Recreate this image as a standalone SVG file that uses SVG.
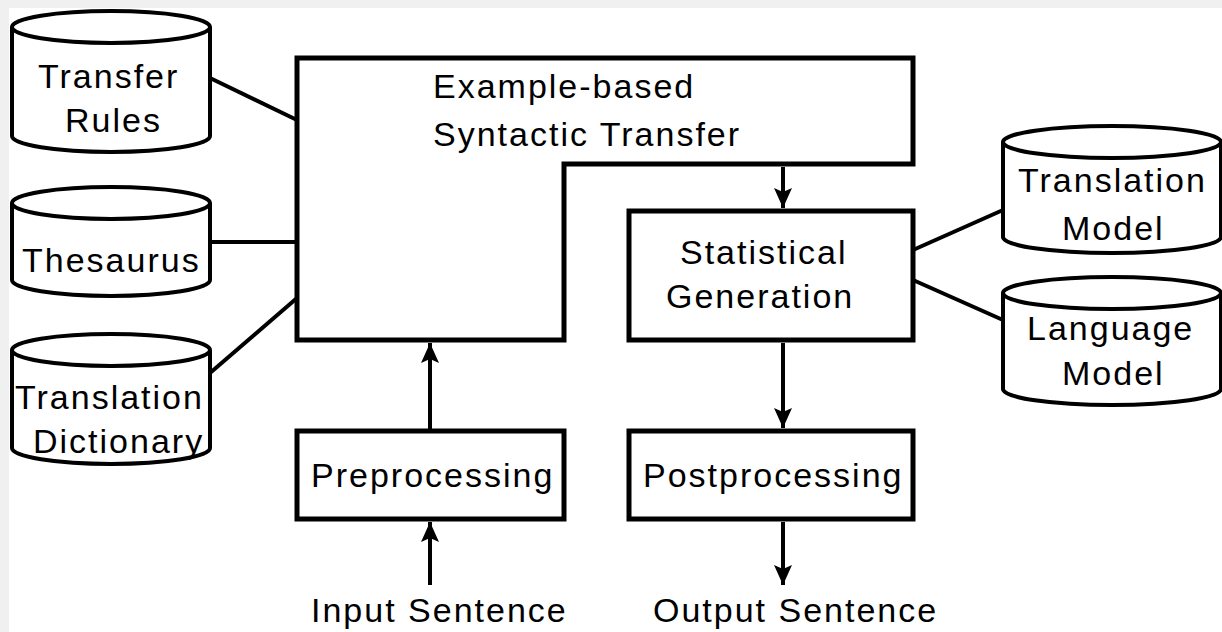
<svg xmlns="http://www.w3.org/2000/svg" width="1222" height="632" viewBox="0 0 1222 632">
<defs>
<style>
.ln{stroke:#000;stroke-width:4;fill:none}
.box{stroke:#000;stroke-width:5;fill:#fff}
.cyl{stroke:#000;stroke-width:4;fill:#fff}
.t{font-family:"Liberation Sans",Arial,sans-serif;font-size:34px;letter-spacing:2px;fill:#000}
</style>
<marker id="ah" markerUnits="userSpaceOnUse" markerWidth="22" markerHeight="20" viewBox="0 0 22 20" refX="21" refY="10" orient="auto">
<path d="M1,1 L5,10 L1,19 L21,10 Z" fill="#000"/>
</marker>
</defs>
<rect x="0" y="0" width="1222" height="632" fill="#f0f0f0"/>
<rect x="9" y="8" width="1213" height="624" fill="#fff"/>

<g id="connectors">
<line class="ln" x1="210" y1="78" x2="297" y2="120"/>
<line class="ln" x1="210" y1="242" x2="297" y2="242"/>
<line class="ln" x1="210" y1="373" x2="297" y2="298"/>
<line class="ln" x1="913" y1="250" x2="1003" y2="210"/>
<line class="ln" x1="913" y1="280" x2="1003" y2="320"/>
<line class="ln" x1="783" y1="167" x2="783" y2="208" marker-end="url(#ah)"/>
<line class="ln" x1="430" y1="429" x2="430" y2="343" marker-end="url(#ah)"/>
<line class="ln" x1="430" y1="585" x2="430" y2="522" marker-end="url(#ah)"/>
<line class="ln" x1="783" y1="343" x2="783" y2="428" marker-end="url(#ah)"/>
<line class="ln" x1="783" y1="522" x2="783" y2="585" marker-end="url(#ah)"/>
</g>

<g id="transfer-rules">
<path class="cyl" d="M12,27 V136 A99,16 0 0 0 210,136 V27"/>
<ellipse class="cyl" cx="111" cy="27" rx="99" ry="16"/>
<text class="t" x="38" y="88">Transfer</text>
<text class="t" x="65" y="132">Rules</text>
</g>

<g id="thesaurus">
<path class="cyl" d="M12,203 V280 A99,16 0 0 0 210,280 V203"/>
<ellipse class="cyl" cx="111" cy="203" rx="99" ry="16"/>
<text class="t" x="22" y="272">Thesaurus</text>
</g>

<g id="translation-dictionary">
<path class="cyl" d="M12,350 V448 A99,16 0 0 0 210,448 V350"/>
<ellipse class="cyl" cx="111" cy="350" rx="99" ry="16"/>
<text class="t" x="15" y="409">Translation</text>
<text class="t" x="33" y="453">Dictionary</text>
</g>

<g id="example-based-transfer">
<polygon class="box" points="297,58 913,58 913,164 564,164 564,340 297,340"/>
<text class="t" x="433" y="98">Example-based</text>
<text class="t" x="433" y="146">Syntactic Transfer</text>
</g>

<g id="statistical-generation">
<rect class="box" x="629" y="211" width="284" height="129"/>
<text class="t" x="680" y="264">Statistical</text>
<text class="t" x="666" y="308">Generation</text>
</g>

<g id="translation-model">
<path class="cyl" d="M1003,142 V237 A109,16 0 0 0 1221,237 V142"/>
<ellipse class="cyl" cx="1112" cy="142" rx="109" ry="16"/>
<text class="t" x="1018" y="192">Translation</text>
<text class="t" x="1062" y="240">Model</text>
</g>

<g id="language-model">
<path class="cyl" d="M1003,293 V389 A109,16 0 0 0 1221,389 V293"/>
<ellipse class="cyl" cx="1112" cy="293" rx="109" ry="16"/>
<text class="t" x="1027" y="340">Language</text>
<text class="t" x="1062" y="385">Model</text>
</g>

<g id="preprocessing">
<rect class="box" x="297" y="431" width="267" height="88"/>
<text class="t" x="311" y="487">Preprocessing</text>
</g>

<g id="postprocessing">
<rect class="box" x="629" y="431" width="284" height="88"/>
<text class="t" x="643" y="487">Postprocessing</text>
</g>

<g id="input-sentence">
<text class="t" x="311" y="622">Input Sentence</text>
</g>
<g id="output-sentence">
<text class="t" x="653" y="622">Output Sentence</text>
</g>
</svg>
